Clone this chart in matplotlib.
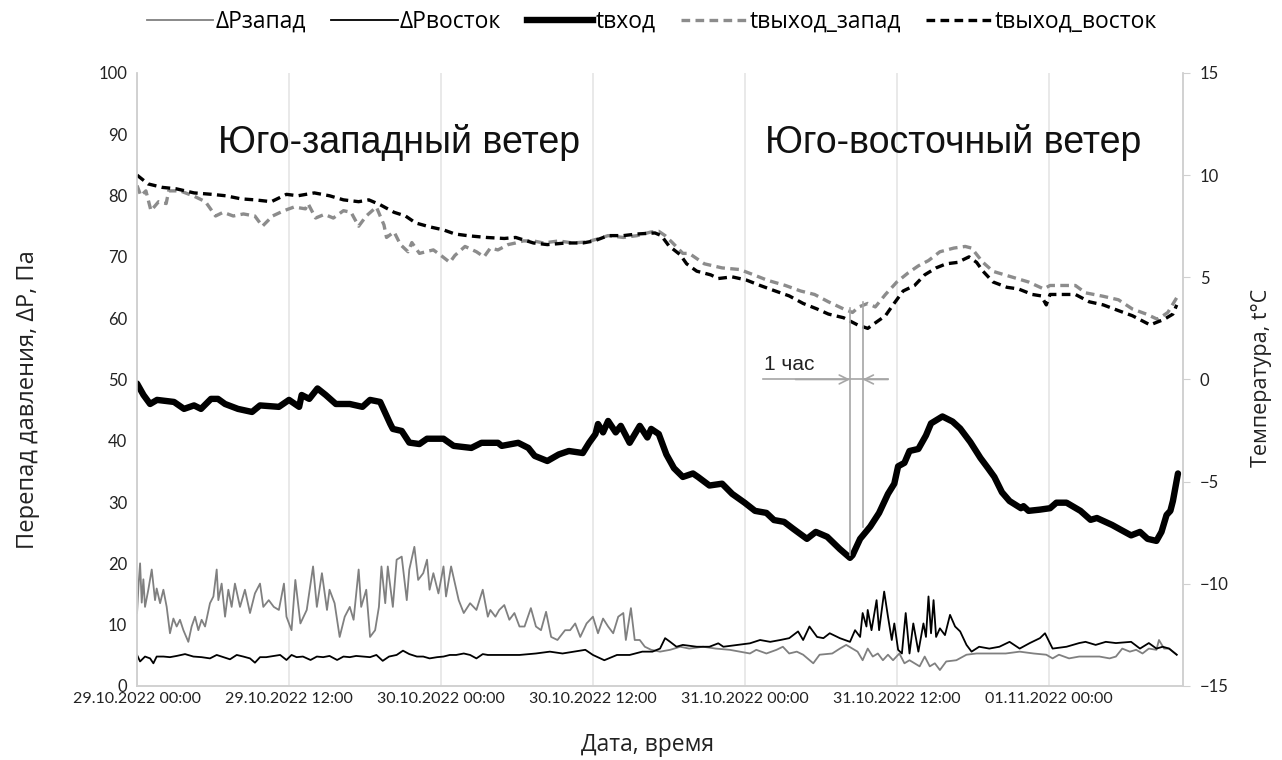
import matplotlib
matplotlib.use("Agg")
import matplotlib.pyplot as plt
from matplotlib.lines import Line2D

# hours since 29.10.2022 00:00
dp_west_h = [0.0, 0.11, 0.24, 0.37, 0.5, 0.63, 0.89, 1.16, 1.42, 1.55, 1.82, 2.08, 2.34, 2.6, 2.87,
             3.13, 3.39, 3.66, 4.05, 4.31, 4.58, 4.84, 5.1, 5.37, 5.76, 6.03, 6.29, 6.42, 6.68, 6.95,
             7.21, 7.47, 7.73, 8.13, 8.52, 8.92, 9.31, 9.71, 9.97, 10.4, 10.8, 11.2, 11.6, 11.8, 12.2,
             12.5, 12.9, 13.4, 13.9, 14.2, 14.6, 15.0, 15.2, 15.6, 16.0, 16.4, 16.8, 17.1, 17.5, 17.7,
             18.1, 18.4, 18.8, 19.1, 19.3, 19.6, 19.8, 20.2, 20.5, 20.9, 21.3, 21.5, 21.9, 22.2, 22.6,
             22.9, 23.1, 23.4, 23.8, 24.2, 24.4, 24.8, 25.4, 25.8, 26.3, 26.8, 27.3, 27.7,
             27.9, 28.3, 28.6, 29.0, 29.4, 29.8, 30.2, 30.6, 31.1, 31.5, 31.9, 32.3, 32.7, 33.2, 33.8,
             34.2, 34.6, 35.0, 35.5, 36.0, 36.4, 36.8, 37.2, 37.6, 38.0, 38.4, 38.6, 39.0, 39.3, 39.7,
             40.1, 40.6, 41.3, 42.1, 42.9, 43.6, 44.7, 45.7, 46.8, 47.6, 48.4, 48.9, 49.7, 50.5, 51.0,
             51.5, 52.1, 52.6, 53.4, 53.9, 54.9, 55.5, 56.0, 56.5, 56.9, 57.3, 57.7, 58.1, 58.5, 58.9,
             59.3, 59.7, 60.2, 60.6, 61.0, 61.4, 61.8, 62.2, 62.6, 63.0, 63.4, 63.9, 64.7, 65.5, 66.3,
             67.3, 68.6, 69.7, 70.8, 71.8, 72.3, 72.8, 73.6, 74.4, 75.2, 76.0, 76.8, 77.3, 77.8, 78.4,
             78.9, 79.4, 79.9, 80.5, 80.7, 81.1, 81.5, 82.1]
dp_west = [11.9, 16.2, 20.0, 13.6, 17.4, 12.9, 15.7, 19.0, 14.0, 15.9, 13.5, 15.7, 12.9, 8.6, 11.0,
           9.7, 10.8, 9.1, 7.2, 9.7, 11.3, 9.1, 10.8, 9.7, 13.5, 14.6, 19.0, 14.0, 16.7, 11.3,
           15.7, 12.9, 16.7, 12.9, 15.7, 11.9, 15.1, 16.7, 12.9, 14.0, 12.9, 12.4, 16.7, 11.3, 9.1,
           17.3, 10.2, 12.4, 19.5, 12.9, 18.4, 12.4, 15.7, 13.5, 8.0, 11.3, 12.9, 10.8, 19.0, 12.9,
           15.7, 8.0, 9.1, 12.9, 19.5, 13.5, 19.5, 12.9, 20.6, 21.1, 14.0, 19.0, 22.7, 17.3, 18.4,
           20.6, 15.7, 18.4, 15.1, 19.5, 14.6, 19.5, 14.0, 11.9, 13.5, 12.4, 15.7, 11.3,
           12.4, 11.3, 12.4, 13.2, 10.8, 11.9, 9.7, 9.7, 12.7, 9.7, 9.1, 12.1, 8.0, 7.5, 9.1,
           9.1, 10.2, 8.0, 10.2, 11.3, 8.6, 11.0, 9.7, 8.6, 11.3, 11.9, 7.5, 12.7, 7.5, 7.5,
           6.4, 5.9, 5.6, 5.9, 6.4, 6.1, 6.4, 6.1, 5.9, 5.6, 5.3, 5.9, 5.3, 5.9, 6.4,
           5.3, 5.6, 5.1, 3.7, 5.1, 5.3, 6.1, 6.7, 6.1, 5.6, 4.2, 6.1, 4.8, 5.3, 4.2,
           5.1, 4.2, 5.3, 3.7, 4.2, 3.7, 3.2, 4.8, 3.2, 3.7, 2.6, 4.0, 4.2, 5.1, 5.3,
           5.3, 5.3, 5.6, 5.3, 5.1, 4.5, 5.1, 4.5, 4.8, 4.8, 4.8, 4.5, 4.8, 6.1, 5.6,
           5.9, 5.3, 6.1, 5.9, 7.5, 6.1, 6.1, 5.1]

dp_east_h = [0.0, 0.24, 0.63, 1.03, 1.29, 1.55, 2.08, 2.6, 3.13, 3.79, 4.45, 5.1, 5.76, 6.29, 6.81,
             7.34, 7.87, 8.39, 8.92, 9.31, 9.71, 10.2, 10.8, 11.3, 11.8, 12.2, 12.6, 13.1, 13.7, 14.2,
             14.7, 15.2, 15.8, 16.3, 16.8, 17.3, 17.9, 18.4, 18.9, 19.4, 19.9, 20.5, 21.0, 21.5, 22.1,
             22.6, 23.1, 23.7, 24.2, 24.7, 25.2, 25.8, 26.3, 26.8, 27.3, 27.7,
             28.9, 30.2, 31.5, 32.6, 33.6, 35.4, 36.0, 36.9, 37.9, 38.9, 39.9, 40.7, 41.3, 41.7, 42.1,
             42.6, 43.1, 44.2, 45.2, 45.9, 46.3, 47.4, 48.4, 49.2, 50.0, 50.8, 51.5, 52.2, 52.6, 53.1,
             53.7, 54.2, 54.7, 55.5, 56.3, 56.7, 57.1, 57.3, 57.6, 57.7, 58.0, 58.4, 58.6, 59.0, 59.3,
             59.6, 59.8, 60.1, 60.4, 60.7, 61.0, 61.3, 61.7, 62.1, 62.3, 62.5, 62.7, 62.9, 63.1, 63.4,
             63.8, 64.2, 64.6, 65.0, 65.5, 65.9, 66.5, 67.3, 68.1, 68.9, 69.7, 70.5, 71.3, 71.7, 72.3,
             73.4, 74.4, 74.9, 75.7, 76.5, 77.3, 78.5, 79.2, 79.9, 80.5, 81.0, 81.5, 82.1]
dp_east = [5.06, 4.0, 4.8, 4.5, 3.7, 4.8, 4.8, 4.7, 4.9, 5.2, 4.8, 4.7, 4.5, 5.06, 4.7,
           4.35, 5.06, 4.8, 4.5, 3.8, 4.7, 4.7, 4.9, 5.06, 4.24, 5.06, 4.7, 4.8, 4.24, 4.8,
           4.7, 4.9, 4.24, 4.8, 4.7, 4.9, 4.8, 4.7, 5.06, 4.1, 4.8, 5.06, 5.76, 5.2, 4.8,
           4.8, 4.5, 4.7, 4.8, 5.06, 5.06, 5.3, 5.06, 4.5, 5.2, 5.06,
           5.06, 5.06, 5.3, 5.6, 5.3, 5.9, 5.06, 4.2, 5.06, 5.06, 5.6, 5.6, 6.1, 7.8, 7.2,
           6.4, 6.7, 6.4, 6.4, 6.96, 6.4, 6.7, 6.96, 7.5, 7.2, 7.5, 7.8, 8.9, 7.5, 9.7,
           8.0, 7.8, 8.6, 7.8, 7.2, 9.1, 8.0, 11.9, 9.7, 12.4, 9.1, 14.0, 9.1, 15.4, 11.3,
           7.5, 10.2, 5.9, 5.3, 11.9, 5.3, 10.2, 5.6, 10.2, 8.0, 14.6, 8.6, 14.0, 8.0, 9.4,
           8.3, 11.6, 9.7, 8.9, 6.7, 5.6, 6.4, 6.1, 6.4, 7.2, 6.1, 7.0, 7.8, 8.6, 6.1,
           6.4, 7.0, 7.2, 6.7, 7.2, 7.0, 7.2, 6.1, 7.0, 6.1, 6.4, 6.1, 5.1]

t_in_h = [0.0, 0.51, 1.03, 1.58, 2.92, 3.71, 4.5, 5.05, 5.84, 6.39, 6.95, 7.97, 9.08, 9.71, 11.2,
          12.0, 12.8, 13.0, 13.6, 14.25, 14.9, 15.7, 16.8, 17.8, 18.4, 19.2, 20.0, 20.2, 20.9, 21.5,
          22.3, 22.9, 24.2, 25.0, 26.4, 27.2, 28.5, 28.8, 30.1, 30.9, 31.4, 32.4, 33.3, 34.1, 35.2,
          35.7, 36.2, 36.4, 36.8, 37.2, 37.8, 38.2, 38.9, 39.7, 40.3, 40.6, 41.2, 41.8, 42.4, 43.1,
          43.9, 44.3, 45.2, 46.2, 47.0, 48.0, 48.8, 49.7, 50.3, 51.1, 51.8, 52.9, 53.6, 54.5, 55.5,
          56.3, 56.5, 57.1, 57.9, 58.6, 59.3, 59.8, 60.1, 60.6, 61.0, 61.7, 62.3, 62.7, 63.6, 64.4,
          65.0, 65.8, 66.6, 67.2, 67.7, 68.3, 68.9, 69.8, 70.0, 70.4, 71.3, 72.1, 72.6, 73.4, 74.5,
          75.3, 75.8, 77.0, 77.7, 78.5, 79.2, 79.8, 80.5, 80.9, 81.3, 81.6, 81.8, 82.2]
t_in = [-0.2, -0.76, -1.2, -1.0, -1.1, -1.44, -1.27, -1.44, -0.95, -0.95, -1.2, -1.44, -1.59, -1.27, -1.34,
        -1.0, -1.34, -0.76, -0.95, -0.44, -0.76, -1.2, -1.2, -1.34, -1.0, -1.1, -2.18, -2.42, -2.52, -3.09,
        -3.16, -2.9, -2.9, -3.25, -3.35, -3.1, -3.1, -3.25, -3.1, -3.35, -3.74, -3.99, -3.67, -3.5, -3.6,
        -3.1, -2.67, -2.18, -2.59, -2.03, -2.59, -2.27, -3.1, -2.27, -2.84, -2.42, -2.67, -3.67, -4.34, -4.77,
        -4.6, -4.77, -5.19, -5.1, -5.6, -6.04, -6.43, -6.53, -6.88, -6.97, -7.3, -7.8, -7.46, -7.7, -8.3,
        -8.73, -8.6, -7.8, -7.2, -6.53, -5.6, -5.1, -4.25, -4.08, -3.5, -3.4, -2.74, -2.15, -1.81, -2.06,
        -2.4, -3.06, -3.84, -4.34, -4.77, -5.52, -5.95, -6.3, -6.2, -6.43, -6.37, -6.3, -6.03, -6.03, -6.43,
        -6.87, -6.78, -7.12, -7.36, -7.63, -7.46, -7.8, -7.9, -7.46, -6.63, -6.43, -5.95, -4.6]

t_out_w_h = [0.0, 0.3, 0.7, 1.1, 1.7, 2.3, 2.5, 3.4, 4.5, 5.4, 6.2, 6.8, 7.6, 8.4, 9.3, 9.9, 10.7,
             11.6, 12.4, 13.3, 13.5, 14.1, 14.8, 15.5, 16.3, 16.9, 17.5, 18.1, 18.9, 19.5, 19.7, 20.3,
             20.8, 21.4, 21.7, 22.3, 22.8, 23.4, 24.0, 24.7, 25.1, 25.9, 26.8, 27.4, 27.9, 28.5, 29.3,
             29.9, 30.5, 31.3, 32.1, 33.3, 34.4, 35.5, 36.4, 37.2, 38.4, 39.5, 40.6, 41.2, 41.7, 42.3,
             43.1, 43.6, 44.8, 46.2, 47.6, 48.7, 49.8, 51.2, 52.4, 53.5, 54.6, 55.8, 56.5, 57.0, 57.7,
             58.3, 59.1, 60.0, 60.9, 61.7, 62.5, 63.4, 64.5, 65.4, 65.9, 66.8, 67.6, 69.0, 70.4, 71.6,
             72.1, 72.9, 74.1, 74.9, 76.3, 77.5, 78.6, 79.7, 80.6, 81.4, 82.1]
t_out_w = [9.49, 8.99, 9.23, 8.26, 8.7, 8.61, 9.23, 9.23, 8.97, 8.7, 8.0, 8.18, 8.0, 8.1, 8.0, 7.5, 8.0,
           8.26, 8.44, 8.35, 8.61, 7.9, 8.08, 7.9, 8.26, 8.18, 7.5, 8.0, 8.44, 7.56, 6.95, 7.22,
           6.6, 6.25, 6.7, 6.17, 6.25, 6.34, 6.07, 5.73, 6.07, 6.51, 6.25, 6.0, 6.43, 6.34, 6.6,
           6.68, 6.78, 6.78, 6.68, 6.78, 6.68, 6.73, 6.88, 7.04, 6.95, 7.04, 7.22, 7.25, 7.04, 6.68,
           6.17, 6.17, 5.66, 5.46, 5.38, 5.12, 4.85, 4.6, 4.33, 4.16, 3.8, 3.45, 3.28, 3.55, 3.72,
           3.55, 4.16, 4.77, 5.22, 5.56, 5.82, 6.25, 6.43, 6.51, 6.43, 5.73, 5.29, 5.03, 4.77, 4.43,
           4.6, 4.6, 4.6, 4.24, 4.07, 3.9, 3.45, 3.2, 2.94, 3.28, 4.0]

t_out_e_h = [0.0, 0.87, 2.0, 3.1, 4.5, 5.9, 7.0, 8.2, 9.3, 10.6, 11.8, 12.7, 14.0, 15.2, 16.3, 17.5,
             18.3, 19.2, 20.3, 21.2, 22.0, 23.1, 24.2, 25.1, 26.2, 27.6, 29.0, 29.9, 31.3, 32.4, 33.9,
             35.2, 36.1, 37.2, 38.4, 39.5, 40.9, 41.4, 42.0, 42.9, 43.4, 44.2, 45.3, 45.9, 47.0, 48.1,
             49.2, 50.4, 51.5, 52.6, 53.7, 54.6, 55.8, 56.9, 57.7, 58.3, 59.1, 59.7, 60.5, 61.4, 62.2,
             63.1, 63.9, 64.8, 65.7, 66.3, 66.8, 67.6, 68.7, 69.6, 70.7, 71.4, 71.8, 72.1, 73.2, 74.1,
             75.2, 76.3, 77.5, 78.6, 80.0, 81.1, 81.8, 82.1]
t_out_e = [10.0, 9.57, 9.4, 9.33, 9.13, 9.06, 8.99, 8.84, 8.79, 8.7, 9.06, 8.99, 9.13, 8.99, 8.79, 8.7,
           8.79, 8.55, 8.18, 8.0, 7.66, 7.47, 7.32, 7.12, 7.03, 6.95, 6.9, 6.95, 6.68, 6.6, 6.68,
           6.68, 6.78, 7.04, 7.04, 7.12, 7.17, 7.04, 6.54, 6.1, 5.66, 5.3, 5.12, 4.94, 5.02, 4.87,
           4.6, 4.33, 4.09, 3.72, 3.45, 3.2, 3.02, 2.67, 2.5, 2.77, 3.12, 3.65, 4.33, 4.6, 5.12,
           5.46, 5.66, 5.73, 6.0, 5.73, 5.3, 4.77, 4.51, 4.43, 4.16, 4.09, 3.65, 4.16, 4.16, 4.16,
           3.8, 3.65, 3.37, 3.12, 2.67, 2.94, 3.2, 3.65]

tick_h = [0, 12, 24, 36, 48, 60, 72]
tick_labels = ["29.10.2022 00:00", "29.10.2022 12:00", "30.10.2022 00:00", "30.10.2022 12:00",
               "31.10.2022 00:00", "31.10.2022 12:00", "01.11.2022 00:00"]

# one-hour lag marks around the inlet temperature minimum
lag_h = [56.3, 57.3]
lag_top = [3.5, 3.8]
lag_bottom = [-8.6, -7.2]

GRAY = "#808080"
GRID = "#e3e3e3"
TICK_FONT = "Lato"
LABEL_FONT = ["Open Sans", "DejaVu Sans"]

fig = plt.figure(figsize=(12.82, 7.6), dpi=100)
ax = fig.add_axes([0.1069, 0.0974, 0.8159, 0.8066])
ax2 = ax.twinx()

ax.plot(dp_west_h, dp_west, color=GRAY, lw=1.3, label="ΔPзапад")
ax.plot(dp_east_h, dp_east, color="black", lw=1.3, label="ΔPвосток")
ax2.plot(t_in_h, t_in, color="black", lw=4.6, solid_capstyle="round", solid_joinstyle="round",
         label="tвход")
ax2.plot(t_out_w_h, t_out_w, color="#8c8c8c", lw=2.4, dashes=(2.6, 1.6), label="tвыход_запад")
ax2.plot(t_out_e_h, t_out_e, color="black", lw=2.4, dashes=(2.6, 1.6), label="tвыход_восток")

ax.set_xlim(0, 82.6)
ax.set_ylim(0, 100)
ax2.set_ylim(-15, 15)
ax.set_yticks(range(0, 101, 10))
ax2.set_yticks(range(-15, 16, 5))
ax.set_xticks(tick_h)
ax.set_xticklabels(tick_labels)
ax.grid(axis="x", color=GRID, lw=1.1)
ax.set_axisbelow(True)

for a in (ax, ax2):
    for s in a.spines.values():
        s.set_color("#d0d0d0")
        s.set_linewidth(1.1)
    a.spines["top"].set_visible(False)
ax.tick_params(axis="both", length=0, labelsize=12, pad=7, colors="#222222")
ax.tick_params(axis="x", pad=4, labelsize=11.5)
ax2.tick_params(axis="y", length=5, color="#d0d0d0", labelsize=12, pad=7, labelcolor="#222222")
for lab in ax.get_xticklabels() + ax.get_yticklabels() + ax2.get_yticklabels():
    lab.set_fontfamily(TICK_FONT)

# lag markers and the "1 час" arrow pair
for h, top, bot in zip(lag_h, lag_top, lag_bottom):
    ax2.plot([h, h], [bot, top], color="#a6a6a6", lw=1.2)
ax2.plot([49.4, 59.3], [0, 0], color="#a6a6a6", lw=1.2)
ax2.annotate("", xy=(lag_h[0], 0), xytext=(52.0, 0),
             arrowprops=dict(arrowstyle="->", color="#a6a6a6", lw=1.2, mutation_scale=16,
                             shrinkA=0, shrinkB=0))
ax2.annotate("", xy=(lag_h[1], 0), xytext=(59.3, 0),
             arrowprops=dict(arrowstyle="->", color="#a6a6a6", lw=1.2, mutation_scale=16,
                             shrinkA=0, shrinkB=0))
ax2.text(49.5, 0.25, "1 час", fontsize=15, family=["Liberation Sans", "DejaVu Sans"],
         color="#222222", ha="left", va="bottom")

ax.text(0.0774, 0.887, "Юго-западный ветер", transform=ax.transAxes, fontsize=27,
        family=["Liberation Sans", "DejaVu Sans"], va="center", ha="left", color="#111111")
ax.text(0.600, 0.887, "Юго-восточный ветер", transform=ax.transAxes, fontsize=27,
        family=["Liberation Sans", "DejaVu Sans"], va="center", ha="left", color="#111111")

fig.text(28 / 1282, 1 - 400 / 760, "Перепад давления, ΔP, Па", rotation=90, fontsize=17,
         family=LABEL_FONT, ha="center", va="center", color="#222222")
fig.text(1262 / 1282, 1 - 378 / 760, "Температура, t°C", rotation=90, fontsize=15.5,
         family=LABEL_FONT, ha="center", va="center", color="#222222")
fig.text(648 / 1282, 1 - 745 / 760, "Дата, время", fontsize=16.5,
         family=LABEL_FONT, ha="center", va="center", color="#222222")

handles = [Line2D([], [], color=GRAY, lw=1.3),
           Line2D([], [], color="black", lw=1.3),
           Line2D([], [], color="black", lw=4.6),
           Line2D([], [], color="#8c8c8c", lw=2.4, dashes=(2.6, 1.6)),
           Line2D([], [], color="black", lw=2.4, dashes=(2.6, 1.6))]
labels = ["ΔPзапад", "ΔPвосток", "tвход", "tвыход_запад", "tвыход_восток"]
fig.legend(handles, labels, loc="center", bbox_to_anchor=(652 / 1282, 1 - 22 / 760), ncol=5,
           frameon=False, prop={"family": LABEL_FONT, "size": 16.5},
           handlelength=2.9, handletextpad=0.1, columnspacing=1.1)

fig.savefig("out.png", dpi=100)
